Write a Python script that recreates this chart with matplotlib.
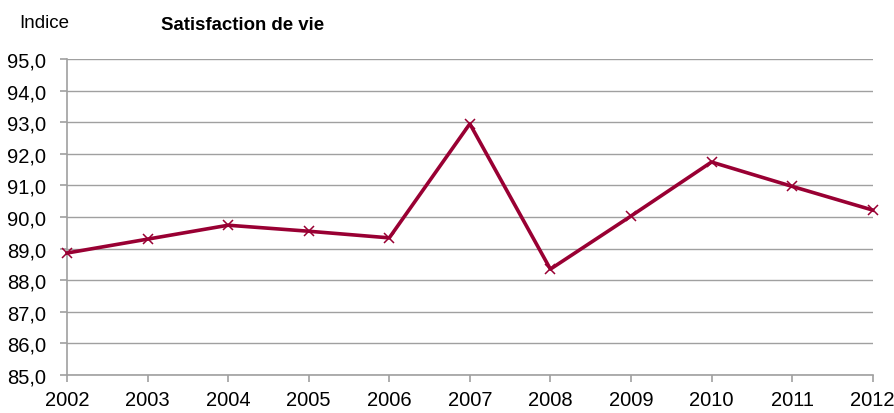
import matplotlib
matplotlib.use("Agg")
import matplotlib.pyplot as plt
from matplotlib.ticker import FuncFormatter

years = [2002, 2003, 2004, 2005, 2006, 2007, 2008, 2009, 2010, 2011, 2012]
values = [88.86, 89.30, 89.74, 89.55, 89.34, 92.95, 88.35, 90.03, 91.74, 90.97, 90.22]
yticks = [85, 86, 87, 88, 89, 90, 91, 92, 93, 94, 95]

plt.rcParams['font.family'] = ['Liberation Sans', 'DejaVu Sans']

fig = plt.figure(figsize=(8.95, 4.14), dpi=100)
ax = fig.add_axes([0.0749, 0.0918, 0.9001, 0.7632])

ax.plot(years, values, color='#990033', linewidth=2.6, marker='x',
        markersize=7.5, markeredgewidth=1.1, zorder=3, clip_on=False)

ax.set_xlim(2002, 2012)
ax.set_ylim(85, 95)
ax.set_xticks(years)
ax.set_yticks(yticks)
ax.yaxis.set_major_formatter(FuncFormatter(lambda v, p: f"{v:.1f}".replace('.', ',')))
ax.grid(axis='y', color='#a0a0a0', linewidth=1.0)
ax.set_axisbelow(True)

for s in ['top', 'right']:
    ax.spines[s].set_visible(False)
for s in ['left', 'bottom']:
    ax.spines[s].set_color('#a0a0a0')
    ax.spines[s].set_linewidth(1.2)

ax.tick_params(axis='both', colors='#a0a0a0', labelcolor='black', labelsize=14.5,
               length=5, width=1.2, direction='out')
ax.tick_params(axis='y', pad=10)
ax.tick_params(axis='x', pad=6)

fig.text(19 / 895, 1 - 23 / 414, 'Indice', fontsize=13.5, va='center', ha='left')
fig.text(161 / 895, 1 - 25 / 414, 'Satisfaction de vie', fontsize=13.4,
         fontweight='bold', va='center', ha='left')

fig.savefig('out.png', dpi=100)
